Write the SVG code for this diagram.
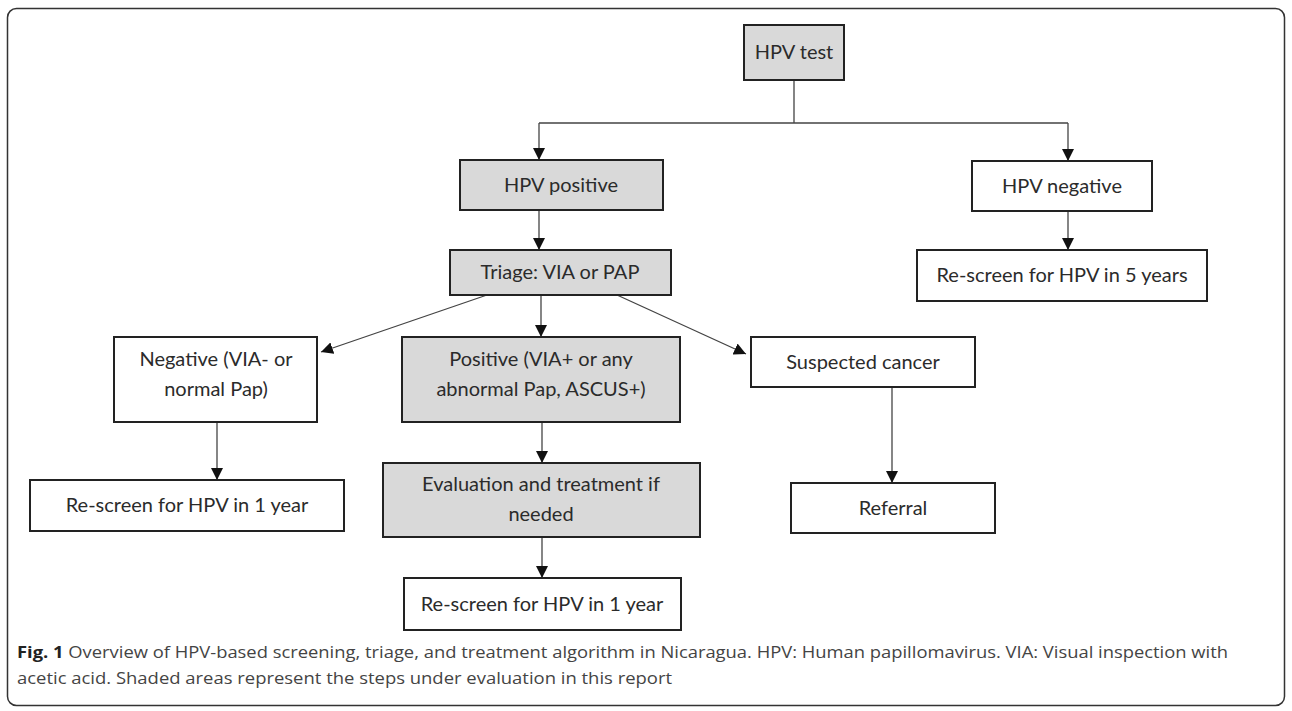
<svg xmlns="http://www.w3.org/2000/svg" width="1292" height="711" viewBox="0 0 1292 711">
<style>
.box{stroke:#222;stroke-width:2;fill:#fff}
.sh{fill:#d9d9d9}
.t{font-family:Lato,"Open Sans","Liberation Sans",sans-serif;font-size:20px;fill:#2b2b2b;text-anchor:middle}
.c{stroke:#444;stroke-width:1.3;fill:none}
.cap{font-family:"Open Sans","Liberation Sans",sans-serif;font-size:16px;fill:#444}
</style>
<defs>
<marker id="ah" viewBox="0 0 10 10" refX="10" refY="5" markerWidth="12" markerHeight="12" markerUnits="userSpaceOnUse" orient="auto">
<path d="M0,0 L10,5 L0,10 z" fill="#111"/>
</marker>
</defs>
<rect x="7.5" y="8.5" width="1277" height="697" rx="9" fill="#fff" stroke="#333" stroke-width="1.5"/>
<g id="connectors">
<path class="c" d="M794,80 V123 M539,123 H1068"/>
<path class="c" d="M539,123 V160" marker-end="url(#ah)"/>
<path class="c" d="M1068,123 V161" marker-end="url(#ah)"/>
<path class="c" d="M1068,211 V250" marker-end="url(#ah)"/>
<path class="c" d="M539,210 V250" marker-end="url(#ah)"/>
<path class="c" d="M541,295 V337" marker-end="url(#ah)"/>
<path class="c" d="M487,295 L321,352" marker-end="url(#ah)"/>
<path class="c" d="M617,295 L746,354" marker-end="url(#ah)"/>
<path class="c" d="M217,422 V480" marker-end="url(#ah)"/>
<path class="c" d="M542,422 V463" marker-end="url(#ah)"/>
<path class="c" d="M892,387 V483" marker-end="url(#ah)"/>
<path class="c" d="M542,537 V578" marker-end="url(#ah)"/>
</g>
<g id="hpv-test"><rect class="box sh" x="744" y="25" width="100" height="55"/><text class="t" x="794" y="59">HPV test</text></g>
<g id="hpv-positive"><rect class="box sh" x="460" y="160" width="203" height="50"/><text class="t" x="561" y="192">HPV positive</text></g>
<g id="hpv-negative"><rect class="box" x="972" y="161" width="180" height="50"/><text class="t" x="1062" y="193">HPV negative</text></g>
<g id="rescreen-5"><rect class="box" x="917" y="250" width="290" height="51"/><text class="t" x="1062" y="282">Re-screen for HPV in 5 years</text></g>
<g id="triage"><rect class="box sh" x="450" y="250" width="221" height="45"/><text class="t" x="560" y="279">Triage: VIA or PAP</text></g>
<g id="negative"><rect class="box" x="114" y="337" width="203" height="85"/><text class="t" x="216" y="366">Negative (VIA- or</text><text class="t" x="216" y="396">normal Pap)</text></g>
<g id="positive"><rect class="box sh" x="402" y="337" width="278" height="85"/><text class="t" x="541" y="366">Positive (VIA+ or any</text><text class="t" x="541" y="396">abnormal Pap, ASCUS+)</text></g>
<g id="suspected"><rect class="box" x="751" y="337" width="224" height="50"/><text class="t" x="863" y="369">Suspected cancer</text></g>
<g id="rescreen-1a"><rect class="box" x="30" y="480" width="314" height="51"/><text class="t" x="187" y="512">Re-screen for HPV in 1 year</text></g>
<g id="evaluation"><rect class="box sh" x="383" y="463" width="317" height="74"/><text class="t" x="541" y="491">Evaluation and treatment if</text><text class="t" x="541" y="521">needed</text></g>
<g id="referral"><rect class="box" x="791" y="483" width="204" height="50"/><text class="t" x="893" y="515">Referral</text></g>
<g id="rescreen-1b"><rect class="box" x="404" y="578" width="277" height="52"/><text class="t" x="542" y="611">Re-screen for HPV in 1 year</text></g>
<text class="cap" x="17" y="658" textLength="1211" lengthAdjust="spacingAndGlyphs"><tspan font-weight="bold" fill="#222">Fig. 1</tspan> Overview of HPV-based screening, triage, and treatment algorithm in Nicaragua. HPV: Human papillomavirus. VIA: Visual inspection with</text>
<text class="cap" x="17" y="684" textLength="655" lengthAdjust="spacingAndGlyphs">acetic acid. Shaded areas represent the steps under evaluation in this report</text>
</svg>
